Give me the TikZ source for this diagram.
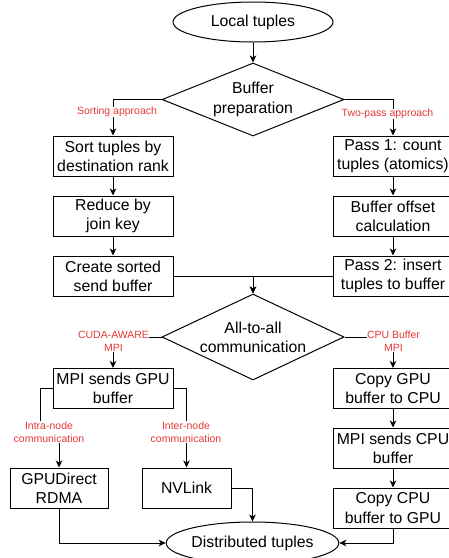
\documentclass[tikz,border=0pt]{standalone}
\usepackage{fontspec}
\setmainfont{Liberation Sans}
\usetikzlibrary{shapes.geometric,arrows.meta}
\definecolor{lblred}{RGB}{229,57,53}
\begin{document}
\begin{tikzpicture}[x=1pt,y=-1pt,
  every node/.style={font=\fontsize{15.8}{19.2}\selectfont, text=black},
  box/.style={draw, line width=1pt, rectangle, minimum width=120pt, minimum height=40pt, inner sep=0pt, align=center},
  oval/.style={draw, line width=1pt, ellipse, minimum width=160pt, minimum height=40pt, inner sep=0pt},
  dec/.style={draw, line width=1pt, diamond, inner sep=-3pt, align=center},
  lbl/.style={font=\fontsize{10.5}{12.8}\selectfont, text=lblred, fill=white, align=center, inner sep=0.5pt},
  conn/.style={line width=1pt},
  arr/.style={conn, -{Stealth[length=7pt,width=6.5pt,inset=2pt]}}
]
\clip (0,0) rectangle (449,558);
\node[oval] (lt) at (253,22) {Local tuples};
\node[dec, shape aspect=2.49, minimum width=182pt, minimum height=73pt] (bp) at (253,99.5) {Buffer\\preparation};
\node[box] (sb) at (113,156) {Sort tuples by\\destination rank};
\node[box] (rk) at (113,216) {Reduce by\\join key};
\node[box] (cs) at (113,276) {Create sorted\\send buffer};
\node[box] (p1) at (393,156) {Pass 1: count\\tuples (atomics)};
\node[box] (bo) at (393,216) {Buffer offset\\calculation};
\node[box] (p2) at (393,276) {Pass 2: insert\\tuples to buffer};
\node[dec, shape aspect=2.12, minimum width=182pt, minimum height=86pt] (aa) at (253,337) {All-to-all\\communication};
\node[box] (mg) at (113,388.5) {MPI sends GPU\\buffer};
\node[box] (cg) at (393,388.5) {Copy GPU\\buffer to CPU};
\node[box] (mc) at (393,448) {MPI sends CPU\\buffer};
\node[box] (cc) at (393,508) {Copy CPU\\buffer to GPU};
\node[box, minimum width=98pt] (gd) at (59,488) {GPUDirect\\RDMA};
\node[box, minimum width=89pt] (nv) at (186.5,488) {NVLink};
\node[oval, minimum height=42pt] (dt) at (252.5,543) {Distributed tuples};

\draw[arr] (lt.south) -- (bp.north);
\draw[arr] (bp.west) -| (sb.north);
\draw[arr] (bp.east) -| (p1.north);
\draw[arr] (sb) -- (rk);
\draw[arr] (rk) -- (cs);
\draw[arr] (p1) -- (bo);
\draw[arr] (bo) -- (p2);
\draw[arr] (cs.east) -| (aa.north);
\draw[arr] (p2.west) -| (aa.north);
\draw[arr] (aa.west) -| (mg.north);
\draw[arr] (aa.east) -| (cg.north);
\draw[arr] (cg) -- (mc);
\draw[arr] (mc) -- (cc);
\coordinate (ja) at (40,432);
\coordinate (jb) at (59,432);
\draw[arr] (mg.west) -| (ja) -- (jb) -- (gd.north);
\draw[arr] (mg.east) -| (nv.north);
\draw[arr] (gd.south) |- (dt.west);
\draw[arr] (nv.east) -| (dt.north);
\draw[arr] (cc.south) |- (dt.east);

\node[lbl] (l1) at (117,112) {Sorting approach};
\node[lbl] (l2) at (387.5,114) {Two-pass approach};
\node[lbl] (l3) at (113.5,341.5) {CUDA-AWARE\\MPI};
\node[lbl] (l4) at (393.5,341.5) {CPU Buffer\\MPI};
\node[lbl] (l5) at (49,432) {Intra-node\\communication};
\node[lbl] (l6) at (186,432) {Inter-node\\communication};
\end{tikzpicture}
\end{document}
